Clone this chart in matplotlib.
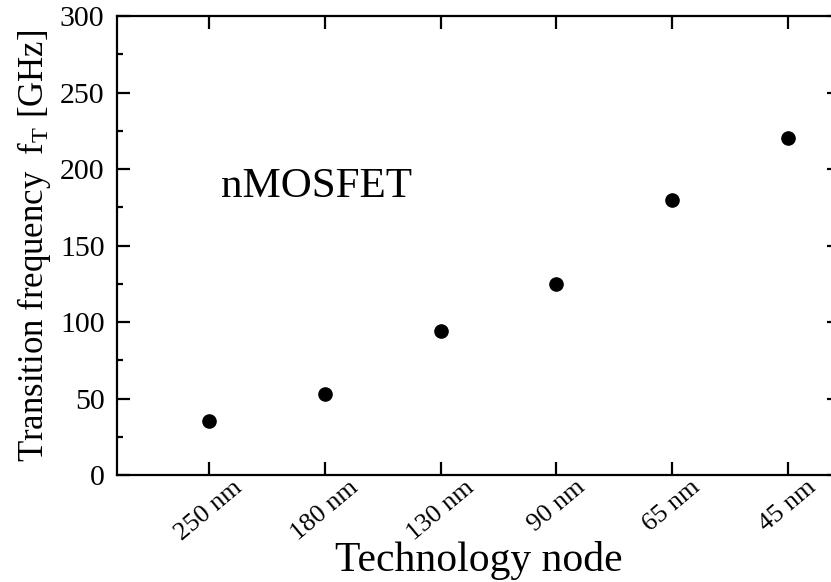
import numpy as np
import matplotlib
matplotlib.use("Agg")
import matplotlib.pyplot as plt
from matplotlib.ticker import MultipleLocator

plt.rcParams["font.family"] = ["Liberation Serif", "DejaVu Serif"]
plt.rcParams["mathtext.fontset"] = "custom"
plt.rcParams["mathtext.rm"] = "Liberation Serif"
plt.rcParams["mathtext.it"] = "Liberation Serif:italic"

# fT por nodo tecnológico (nMOSFET)
nodos = ["250 nm", "180 nm", "130 nm", "90 nm", "65 nm", "45 nm"]
ft_ghz = [35, 53, 94, 125, 180, 220]

fig = plt.figure(figsize=(8.31, 5.82), dpi=100)
ax = fig.add_axes([0.1408, 0.1838, 0.870, 0.7887])

x = np.arange(1, len(nodos) + 1)
ax.plot(x, ft_ghz, "o", color="black", markersize=9.5, clip_on=False)

ax.set_xlim(0.205, 6.45)
ax.set_ylim(0, 300)
ax.set_xticks(x)
ax.set_xticklabels(nodos, rotation=40, fontsize=19)
ax.yaxis.set_major_locator(MultipleLocator(50))
ax.yaxis.set_minor_locator(MultipleLocator(25))

ax.tick_params(which="both", direction="in", top=True, right=True, width=1.6)
ax.tick_params(which="major", length=9.5)
ax.tick_params(which="minor", length=4.5)
ax.tick_params(axis="y", labelsize=21.5, pad=9)
ax.tick_params(axis="x", pad=1)
for s in ax.spines.values():
    s.set_linewidth(1.6)

ax.set_xlabel("Technology node", fontsize=30, labelpad=-3)
ax.set_ylabel(r"Transition frequency  f$_\mathrm{T}$ [GHz]", fontsize=25, labelpad=5)
ax.text(1.1, 182, "nMOSFET", fontsize=31, va="baseline", ha="left")

fig.savefig("out.png", dpi=100)
